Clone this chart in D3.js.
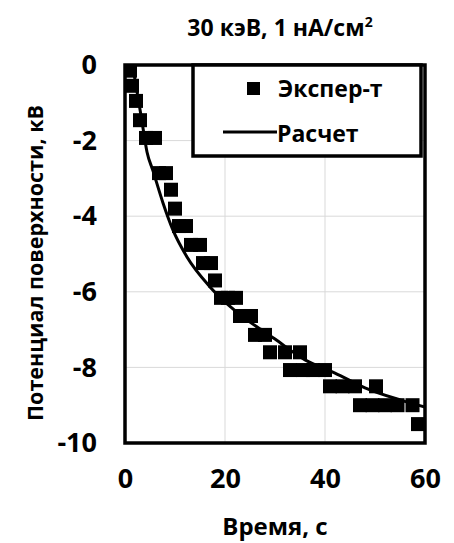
<!DOCTYPE html>
<html>
<meta charset="utf-8">

<head>
    <style>
        body { margin: 0; background: #fff; }
        text { font-family: "Open Sans", sans-serif; font-weight: 700; fill: #000; }
        .grid line { stroke: #d9d9d9; stroke-width: 1; }
    </style>
</head>

<body>
    <div id="chart"></div>
    <script src="https://d3js.org/d3.v7.min.js"></script>

    <script>
        // experimental points (time, s / potential, kV)
        const expT = [1.0, 1.4, 2.2, 3.0, 4.2, 6.0, 6.8, 8.2, 9.2, 10.0, 10.8, 12.2, 13.2, 15.0, 15.6, 17.2, 18.0,
            19.2, 20.6, 22.2, 23.0, 25.2, 26.0, 28.0, 29.0, 32.0, 33.0, 35.0, 35.6, 37.6, 40.0, 41.0, 43.5, 46.0,
            47.0, 49.5, 50.2, 52.0, 54.5, 57.5, 58.6];
        const expV = [-0.15, -0.55, -0.95, -1.46, -1.93, -1.93, -2.86, -2.86, -3.3, -3.8, -4.26, -4.26, -4.76, -4.76,
            -5.24, -5.24, -5.7, -6.16, -6.16, -6.16, -6.64, -6.64, -7.14, -7.14, -7.6, -7.6, -8.07, -7.6, -8.07,
            -8.07, -8.07, -8.5, -8.5, -8.5, -9.0, -9.0, -8.5, -9.0, -9.0, -9.0, -9.5];

        // calculated curve
        const calcT = [1.5, 2.4, 3.4, 4.4, 5.6, 7.6, 9.6, 12.4, 17, 22, 30, 36, 42, 48, 55, 60];
        const calcV = [0, -0.7, -1.5, -2.3, -2.8, -3.65, -4.37, -5.08, -5.87, -6.5, -7.25, -7.8, -8.15, -8.54, -8.86, -9.05];

        const xTicks = [0, 20, 40, 60];
        const yTicks = [0, -2, -4, -6, -8, -10];

        const title = "30 кэВ, 1 нА/см";
        const xTitle = "Время, с";
        const yTitle = "Потенциал поверхности, кВ";
        const legendNames = ["Экспер-т", "Расчет"];

        var W = 454, H = 543;
        var margin = { top: 65, left: 125, right: 29, bottom: 100 };
        var width = W - margin.left - margin.right,
            height = H - margin.top - margin.bottom;

        var svg = d3.select("#chart").append("svg")
            .attr("width", W).attr("height", H);
        var g = svg.append("g")
            .attr("transform", "translate(" + margin.left + "," + margin.top + ")");

        var x = d3.scaleLinear().domain([0, 60]).range([0, width]);
        var y = d3.scaleLinear().domain([-10, 0]).range([height, 0]);

        // grid
        g.append("g").attr("class", "grid")
            .selectAll("line").data(xTicks.slice(1, -1)).join("line")
            .attr("x1", d => x(d)).attr("x2", d => x(d))
            .attr("y1", 0).attr("y2", height);
        g.append("g").attr("class", "grid")
            .selectAll("line").data(yTicks.slice(1, -1)).join("line")
            .attr("x1", 0).attr("x2", width)
            .attr("y1", d => y(d)).attr("y2", d => y(d));

        // axes (labels only), plain hyphen for minus like the original
        var fmt = d => String(d);
        var xAxis = g.append("g")
            .attr("transform", "translate(0," + height + ")")
            .call(d3.axisBottom(x).tickValues(xTicks).tickFormat(fmt).tickSize(0).tickPadding(26));
        xAxis.select(".domain").remove();
        xAxis.selectAll("text").style("font-size", "27px").style("font-family", "Open Sans");

        var yAxis = g.append("g")
            .call(d3.axisLeft(y).tickValues(yTicks).tickFormat(fmt).tickSize(0).tickPadding(28));
        yAxis.select(".domain").remove();
        yAxis.selectAll("text").style("font-size", "27px").style("font-family", "Open Sans");

        // clip for data
        svg.append("clipPath").attr("id", "clip")
            .append("rect").attr("x", 0).attr("y", 0).attr("width", width).attr("height", height);

        var plot = g.append("g").attr("clip-path", "url(#clip)");

        var ms = 14;
        plot.selectAll("rect.pt")
            .data(expT.map((t, i) => [t, expV[i]]))
            .join("rect")
            .attr("class", "pt")
            .attr("x", d => x(d[0]) - ms / 2)
            .attr("y", d => y(d[1]) - ms / 2)
            .attr("width", ms).attr("height", ms)
            .attr("fill", "#000");

        var line = d3.line()
            .x(d => x(d[0]))
            .y(d => y(d[1]))
            .curve(d3.curveMonotoneX);

        plot.append("path")
            .datum(calcT.map((t, i) => [t, calcV[i]]))
            .attr("d", line)
            .attr("fill", "none")
            .attr("stroke", "#000")
            .attr("stroke-width", 3);

        // frame
        g.append("rect")
            .attr("width", width).attr("height", height)
            .attr("fill", "none").attr("stroke", "#000").attr("stroke-width", 3.5);

        // legend
        var lg = g.append("g").attr("transform", "translate(" + (193 - margin.left) + ",0)");
        lg.append("rect")
            .attr("width", 228).attr("height", 91)
            .attr("fill", "#fff").attr("stroke", "#000").attr("stroke-width", 3.5);
        lg.append("rect")
            .attr("x", 54).attr("y", 17).attr("width", 13).attr("height", 13)
            .attr("fill", "#000");
        lg.append("text").attr("x", 85).attr("y", 32)
            .style("font-size", "23px").text(legendNames[0]);
        lg.append("line")
            .attr("x1", 30).attr("x2", 84).attr("y1", 67).attr("y2", 67)
            .attr("stroke", "#000").attr("stroke-width", 3);
        lg.append("text").attr("x", 84).attr("y", 77)
            .style("font-size", "23px").text(legendNames[1]);

        // titles
        var tt = svg.append("text")
            .attr("x", 280).attr("y", 36)
            .attr("text-anchor", "middle")
            .style("font-size", "23px");
        tt.append("tspan").text(title);
        tt.append("tspan").attr("dy", -9).style("font-size", "14px").text("2");

        svg.append("text")
            .attr("x", margin.left + width / 2).attr("y", 535)
            .attr("text-anchor", "middle")
            .style("font-size", "24px")
            .text(xTitle);

        svg.append("text")
            .attr("transform", "translate(43," + 263 + ") rotate(-90)")
            .attr("text-anchor", "middle")
            .style("font-size", "21.5px")
            .text(yTitle);
    </script>

</body>

</html>
